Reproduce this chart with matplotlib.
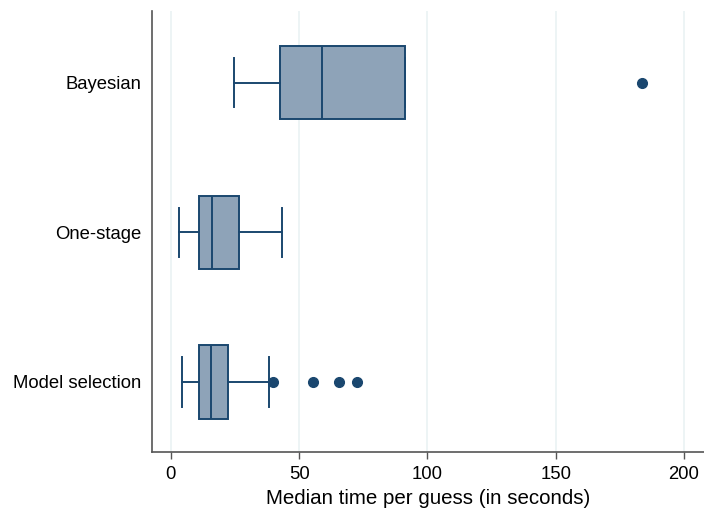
import matplotlib.pyplot as plt

plt.rcParams["font.family"] = ["Liberation Sans", "DejaVu Sans"]

# box statistics (seconds)
groups = ["Model selection", "One-stage", "Bayesian"]
whislo = [4.5, 3.1, 24.7]
q1 = [11.0, 10.9, 42.6]
med = [15.6, 16.1, 58.8]
q3 = [22.1, 26.6, 91.1]
whishi = [38.3, 43.2, 91.1]
fliers = [[40.0, 55.3, 65.4, 72.7], [], [183.8]]

NAVY = "#1a476f"
FILL = "#8ea3b8"
GRID = "#eaf2f3"

stats = []
for i, name in enumerate(groups):
    stats.append(dict(label=name, whislo=whislo[i], q1=q1[i], med=med[i],
                      q3=q3[i], whishi=whishi[i], fliers=fliers[i]))

fig = plt.figure(figsize=(7.04, 5.15), dpi=100)
ax = fig.add_axes([0.216, 0.122, 0.784, 0.857])

ax.bxp(stats, positions=[1, 2, 3], widths=0.49, capwidths=0.33,
       orientation="horizontal", patch_artist=True, zorder=3,
       boxprops=dict(facecolor=FILL, edgecolor=NAVY, linewidth=1.4),
       medianprops=dict(color=NAVY, linewidth=1.4),
       whiskerprops=dict(color=NAVY, linewidth=1.4),
       capprops=dict(color=NAVY, linewidth=1.4),
       flierprops=dict(marker="o", markerfacecolor=NAVY, markeredgecolor=NAVY,
                       markersize=7))

ax.set_xlim(-7.3, 207.8)
ax.set_ylim(0.53, 3.48)
ax.set_xticks([0, 50, 100, 150, 200])
ax.grid(axis="x", color=GRID, linewidth=1.2, zorder=0)
ax.set_axisbelow(True)

for side in ["top", "right"]:
    ax.spines[side].set_visible(False)
for side in ["left", "bottom"]:
    ax.spines[side].set_color("#555555")
    ax.spines[side].set_linewidth(1.2)

ax.tick_params(axis="y", length=0, labelsize=13.3, pad=8)
ax.tick_params(axis="x", length=5, width=1, color="#555555", labelsize=13.3, pad=5)
ax.set_xlabel("Median time per guess (in seconds)", fontsize=14.8, labelpad=4)

fig.savefig("out.png", dpi=100)
